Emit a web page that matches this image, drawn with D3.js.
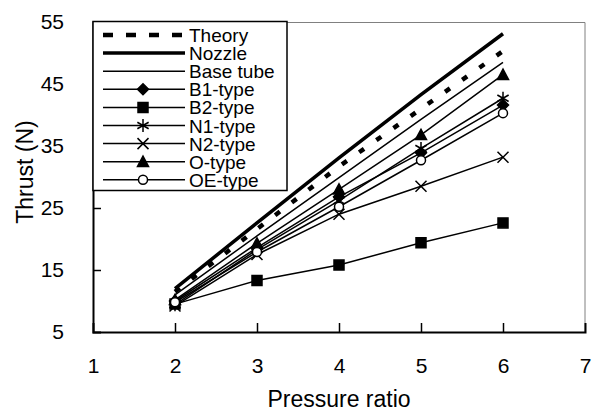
<!DOCTYPE html>
<html>
<head>
<meta charset="utf-8">
<script src="https://cdn.jsdelivr.net/npm/d3@7/dist/d3.min.js"></script>
<style>
  body { margin: 0; background: #fff; }
  text { font-family: Arial, "Liberation Sans", sans-serif; fill: #000; }
</style>
</head>
<body>
<div id="chart"></div>
<script>
// data
const pressureRatio = [2, 3, 4, 5, 6];
const theory   = [11.5, 21.6, 31.7, 41.0, 50.3];
const nozzle   = [12.0, 22.6, 33.1, 43.3, 53.1];
const baseTube = [11.0, 20.5, 29.9, 39.3, 48.5];
const b1Type   = [10.0, 18.6, 26.8, 33.9, 41.6];
const b2Type   = [9.5, 13.3, 15.8, 19.4, 22.6];
const n1Type   = [9.4, 18.3, 26.2, 34.6, 42.7];
const n2Type   = [9.2, 17.5, 24.0, 28.5, 33.2];
const oType    = [10.2, 19.3, 28.0, 36.8, 46.5];
const oeType   = [9.8, 17.9, 25.2, 32.7, 40.3];
const seriesNames = ["Theory", "Nozzle", "Base tube", "B1-type", "B2-type", "N1-type", "N2-type", "O-type", "OE-type"];
const xTicks = [1, 2, 3, 4, 5, 6, 7];
const yTicks = [5, 15, 25, 35, 45, 55];

// marker shapes
const diamond = { draw(c, s) { const r = Math.sqrt(s) / 2; c.moveTo(0, -r); c.lineTo(r, 0); c.lineTo(0, r); c.lineTo(-r, 0); c.closePath(); } };
const square = { draw(c, s) { const r = Math.sqrt(s) / 2; c.rect(-r, -r, 2 * r, 2 * r); } };
const triangle = { draw(c, s) { const r = Math.sqrt(s) / 2; c.moveTo(0, -r); c.lineTo(r, r * 0.85); c.lineTo(-r, r * 0.85); c.closePath(); } };
const asterisk = { draw(c, s) { const r = Math.sqrt(s) / 2; const u = r * 0.866, t = r / 2;
  c.moveTo(0, -r); c.lineTo(0, r); c.moveTo(-u, -t); c.lineTo(u, t); c.moveTo(-u, t); c.lineTo(u, -t); } };
const cross = { draw(c, s) { const r = Math.sqrt(s) / 2; c.moveTo(-r, -r); c.lineTo(r, r); c.moveTo(-r, r); c.lineTo(r, -r); } };
const circle = { draw(c, s) { const r = Math.sqrt(s) / 2; c.moveTo(r, 0); c.arc(0, 0, r, 0, 2 * Math.PI); } };

const series = [
  { name: seriesNames[0], values: theory, width: 4.5, dash: "6 15", legendDash: "10 13" },
  { name: seriesNames[1], values: nozzle, width: 3.5 },
  { name: seriesNames[2], values: baseTube, width: 1.5 },
  { name: seriesNames[3], values: b1Type, width: 1.5, marker: diamond, size: 11, fill: "#000" },
  { name: seriesNames[4], values: b2Type, width: 1.5, marker: square, size: 10, fill: "#000" },
  { name: seriesNames[5], values: n1Type, width: 1.5, marker: asterisk, size: 13, fill: "none" },
  { name: seriesNames[6], values: n2Type, width: 1.5, marker: cross, size: 11, fill: "none" },
  { name: seriesNames[7], values: oType, width: 1.5, marker: triangle, size: 11, fill: "#000" },
  { name: seriesNames[8], values: oeType, width: 1.5, marker: circle, size: 9, fill: "#fff" }
];

var margin = {top: 22, right: 10, bottom: 79, left: 93};
var width = 595 - margin.left - margin.right;
var height = 411 - margin.top - margin.bottom;

var svg = d3.select("#chart")
  .append("svg")
  .attr("width", 595)
  .attr("height", 411);
var g = svg.append("g")
  .attr("transform", "translate(" + margin.left + "," + margin.top + ")");

var x = d3.scaleLinear().domain([1, 7]).range([0, width]);
var y = d3.scaleLinear().domain([5, 55]).range([height, 0]);

// plot frame (grey top/right)
g.append("path")
  .attr("d", `M0,0.5H${width}V${height}`)
  .attr("fill", "none").attr("stroke", "#808080").attr("stroke-width", 1);

// axes, ticks pointing inside
var xAxis = g.append("g")
  .attr("transform", "translate(0," + height + ")")
  .call(d3.axisBottom(x).tickValues(xTicks).tickSize(-9).tickPadding(26).tickFormat(d3.format("d")));
var yAxis = g.append("g")
  .call(d3.axisLeft(y).tickValues(yTicks).tickSize(-8).tickPadding(29).tickFormat(d3.format("d")));
[xAxis, yAxis].forEach(a => {
  a.select(".domain").attr("stroke", "#000").attr("stroke-width", 2);
  a.selectAll(".tick line").attr("stroke", "#000").attr("stroke-width", 1.5);
  a.selectAll(".tick text").attr("font-size", 21).attr("font-family", "Arial, 'Liberation Sans', sans-serif").attr("fill", "#000");
});
xAxis.selectAll(".tick").filter(d => d === 1 || d === 7).select("line").remove();
yAxis.selectAll(".tick").filter(d => d === 5).select("line").remove();

// lines
var line = d3.line()
  .x((d, i) => x(pressureRatio[i]))
  .y(d => y(d));
series.forEach(s => {
  g.append("path")
    .datum(s.values)
    .attr("d", line)
    .attr("fill", "none")
    .attr("stroke", "#000")
    .attr("stroke-width", s.width)
    .attr("stroke-dasharray", s.dash || null);
});

// markers
series.filter(s => s.marker).forEach(s => {
  g.selectAll(null)
    .data(s.values)
    .enter()
    .append("path")
      .attr("transform", (d, i) => `translate(${x(pressureRatio[i])},${y(d)})`)
      .attr("d", d3.symbol().type(s.marker).size(s.size * s.size))
      .attr("fill", s.fill)
      .attr("stroke", "#000")
      .attr("stroke-width", 1.5);
});

// legend
var legend = g.append("g");
legend.append("rect")
  .attr("x", 0).attr("y", -0.5)
  .attr("width", 194).attr("height", 169)
  .attr("fill", "#fff").attr("stroke", "#000").attr("stroke-width", 1.5);
series.forEach((s, i) => {
  var ly = 13 + i * 18.1;
  legend.append("line")
    .attr("x1", 10).attr("x2", 92)
    .attr("y1", ly).attr("y2", ly)
    .attr("stroke", "#000")
    .attr("stroke-width", s.width)
    .attr("stroke-dasharray", s.legendDash || null);
  if (s.marker) {
    legend.append("path")
      .attr("transform", `translate(50,${ly})`)
      .attr("d", d3.symbol().type(s.marker).size(s.size * s.size))
      .attr("fill", s.fill)
      .attr("stroke", "#000")
      .attr("stroke-width", 1.5);
  }
  legend.append("text")
    .attr("x", 96).attr("y", ly + 7)
    .attr("font-size", 19)
    .text(s.name);
});

// axis titles
svg.append("text")
  .attr("x", margin.left + width / 2).attr("y", 407)
  .attr("text-anchor", "middle")
  .attr("font-size", 23)
  .text("Pressure ratio");
svg.append("text")
  .attr("transform", "translate(33,172) rotate(-90)")
  .attr("text-anchor", "middle")
  .attr("font-size", 23)
  .text("Thrust (N)");
</script>
</body>
</html>
